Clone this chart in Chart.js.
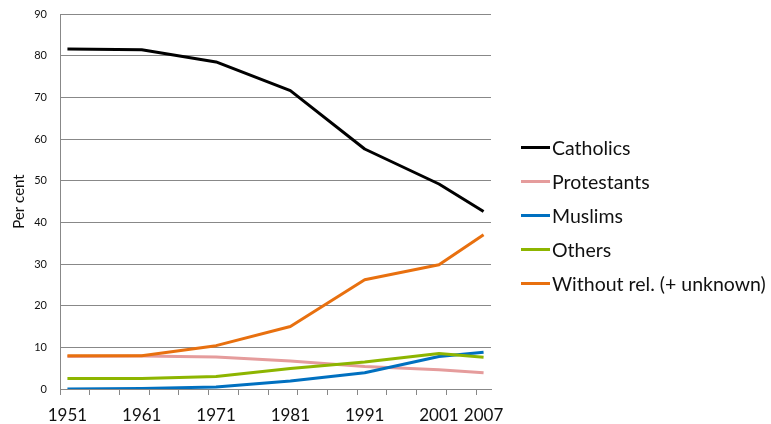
<!DOCTYPE html>
<html>
<head>
<meta charset="utf-8">
<script src="https://cdn.jsdelivr.net/npm/chart.js@4.4.1/dist/chart.umd.min.js"></script>
<style>
  html, body { margin: 0; padding: 0; background: #fff; }
  #wrap { position: relative; width: 771px; height: 424px; }
  #legend { position: absolute; left: 521px; top: 135px; font-family: Lato, sans-serif; font-size: 19.5px; color: #111; }
  #legend div { display: flex; align-items: center; height: 24px; margin-bottom: 10px; }
  #legend span.sw { display: inline-block; width: 29px; height: 3px; margin-right: 2px; }
</style>
</head>
<body>
<div id="wrap">
  <canvas id="religion" width="771" height="424"></canvas>
  <div id="legend"></div>
</div>
<script>
// census years
const years = [1951, 1961, 1971, 1981, 1991, 2001, 2007];

const catholics = [81.6, 81.4, 78.5, 71.6, 57.6, 49.2, 42.6];
const protestants = [7.8, 7.9, 7.7, 6.7, 5.4, 4.6, 3.9];
const muslims = [0.0, 0.1, 0.5, 1.9, 3.9, 7.8, 8.8];
const others = [2.5, 2.5, 3.0, 4.9, 6.5, 8.5, 7.6];
const withoutRel = [8.0, 8.0, 10.4, 15.0, 26.2, 29.8, 37.0];

const seriesNames = ["Catholics", "Protestants", "Muslims", "Others", "Without rel. (+ unknown)"];
const seriesColors = ["#000000", "#E59C9C", "#0070C0", "#8DB500", "#E8700F"];
const seriesData = [catholics, protestants, muslims, others, withoutRel];

const datasets = seriesNames.map((name, i) => ({
  label: name,
  data: years.map((y, j) => ({ x: y, y: seriesData[i][j] })),
  borderColor: seriesColors[i],
  backgroundColor: seriesColors[i],
  borderWidth: 3,
  pointRadius: 0,
  tension: 0,
  borderJoinStyle: "round",
  fill: false,
  order: seriesNames.length - 1 - i,
}));

const gridGray = "#888888";

var ctx = document.getElementById("religion").getContext("2d");
const myChart = new Chart(ctx, {
  type: "line",
  data: { datasets: datasets },
  options: {
    responsive: false,
    animation: false,
    layout: { padding: { top: 14, right: 280, bottom: 0, left: 0 } },
    plugins: { legend: { display: false }, tooltip: { enabled: false } },
    scales: {
      xt: {
        type: "linear",
        position: "bottom",
        weight: 0,
        min: 1950,
        max: 2008,
        afterBuildTicks: (scale) => {
          const t = [];
          for (let v = 1950; v <= 2006; v += 4) t.push({ value: v });
          scale.ticks = t;
        },
        ticks: { display: false },
        grid: { drawOnChartArea: false, drawTicks: true, tickLength: 6, color: gridGray },
        border: { color: gridGray, width: 1 },
      },
      x: {
        type: "linear",
        position: "bottom",
        weight: 1,
        min: 1950,
        max: 2008,
        afterBuildTicks: (scale) => {
          scale.ticks = years.map((y) => ({ value: y }));
        },
        ticks: {
          autoSkip: false,
          maxRotation: 0,
          padding: 10,
          color: "#111",
          font: { family: "Lato", size: 17 },
          callback: (v) => String(v),
        },
        grid: { display: false, drawTicks: false },
        border: { display: false },
        afterFit: (scale) => { scale.height = 29; scale.paddingLeft = 0; scale.paddingRight = 0; },
      },
      y: {
        min: 0,
        max: 90,
        ticks: {
          stepSize: 10,
          padding: 13,
          color: "#111",
          font: { family: "Lato", size: 11 },
        },
        grid: { color: gridGray, drawTicks: false },
        border: { color: gridGray },
        title: {
          display: true,
          text: "Per cent",
          color: "#111",
          font: { family: "Lato", size: 15 },
          padding: { top: 10, bottom: 4 },
        },
        afterFit: (scale) => { scale.width = 60; scale.paddingTop = 0; scale.paddingBottom = 0; },
      },
    },
  },
});

const legend = document.getElementById("legend");
seriesNames.forEach((name, i) => {
  const row = document.createElement("div");
  const sw = document.createElement("span");
  sw.className = "sw";
  sw.style.background = seriesColors[i];
  row.appendChild(sw);
  row.appendChild(document.createTextNode(name));
  legend.appendChild(row);
});
</script>
</body>
</html>
